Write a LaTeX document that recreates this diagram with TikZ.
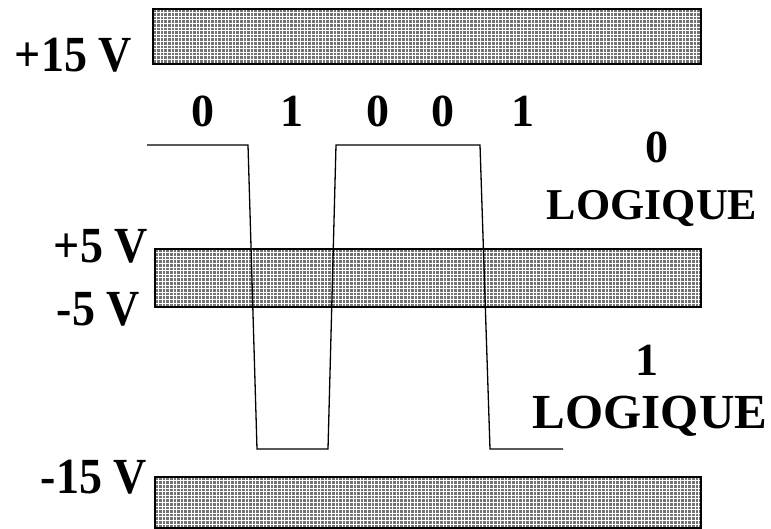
\documentclass[tikz,border=0pt]{standalone}
\usepackage{fontspec}
\setmainfont{Liberation Serif}
\begin{document}
\begin{tikzpicture}[x=1pt,y=-1pt,
  lbl/.style={inner sep=0pt,font=\fontsize{46}{50}\selectfont\bfseries},
  bar/.style={draw=black,line width=1.8pt},
  wave/.style={draw=black,line width=1.3pt,line join=miter}]
\useasboundingbox (0,0) rectangle (771,529);
\newcommand{\hatchbar}[4]{%
  \fill[black!55] (#1,#2) rectangle (#3,#4);
  \begin{scope}
    \clip (#1,#2) rectangle (#3,#4);
    \foreach \xx in {0,3.6,...,560} \draw[white,line width=0.8pt] ({#1+\xx},#2) -- ({#1+\xx},#4);
    \foreach \yy in {0,3.6,...,70} \draw[white,line width=0.6pt] (#1,{#2+\yy}) -- (#3,{#2+\yy});
  \end{scope}
  \draw[bar] (#1,#2) rectangle (#3,#4);}
\hatchbar{153}{9}{701}{64}
\hatchbar{155}{249}{701}{307}
\hatchbar{155}{477}{701}{528}
\node (p15) [lbl,anchor=base east] at (132,72) {\scalebox{1}[1.1]{+15 V}};
\node (p5) [lbl,anchor=base east] at (148,263) {\scalebox{1}[1.1]{+5 V}};
\node (m5) [lbl,anchor=base east] at (140,326) {\scalebox{1}[1.1]{-5 V}};
\node (m15) [lbl,anchor=base east] at (147,493) {\scalebox{1}[1.1]{-15 V}};
\node (b1) [lbl,anchor=base] at (203,127) {0};
\node (b2) [lbl,anchor=base] at (292,127) {1};
\node (b3) [lbl,anchor=base] at (378,127) {0};
\node (b4) [lbl,anchor=base] at (443,127) {0};
\node (b5) [lbl,anchor=base] at (523,127) {1};
\node (z0) [lbl,anchor=base] at (657,163) {0};
\node (zl) [lbl,anchor=base,font=\fontsize{44}{48}\selectfont\bfseries] at (652,220) {LOGIQUE};
\node (o1) [lbl,anchor=base] at (647,375) {1};
\node (ol) [lbl,anchor=base,font=\fontsize{49}{52}\selectfont\bfseries] at (650,428) {LOGIQUE};
\draw[wave] (147,145) -- (248,145) -- (257,449) -- (328,449) -- (336,145) -- (480,145) -- (490,449) -- (563,449);
\end{tikzpicture}
\end{document}
